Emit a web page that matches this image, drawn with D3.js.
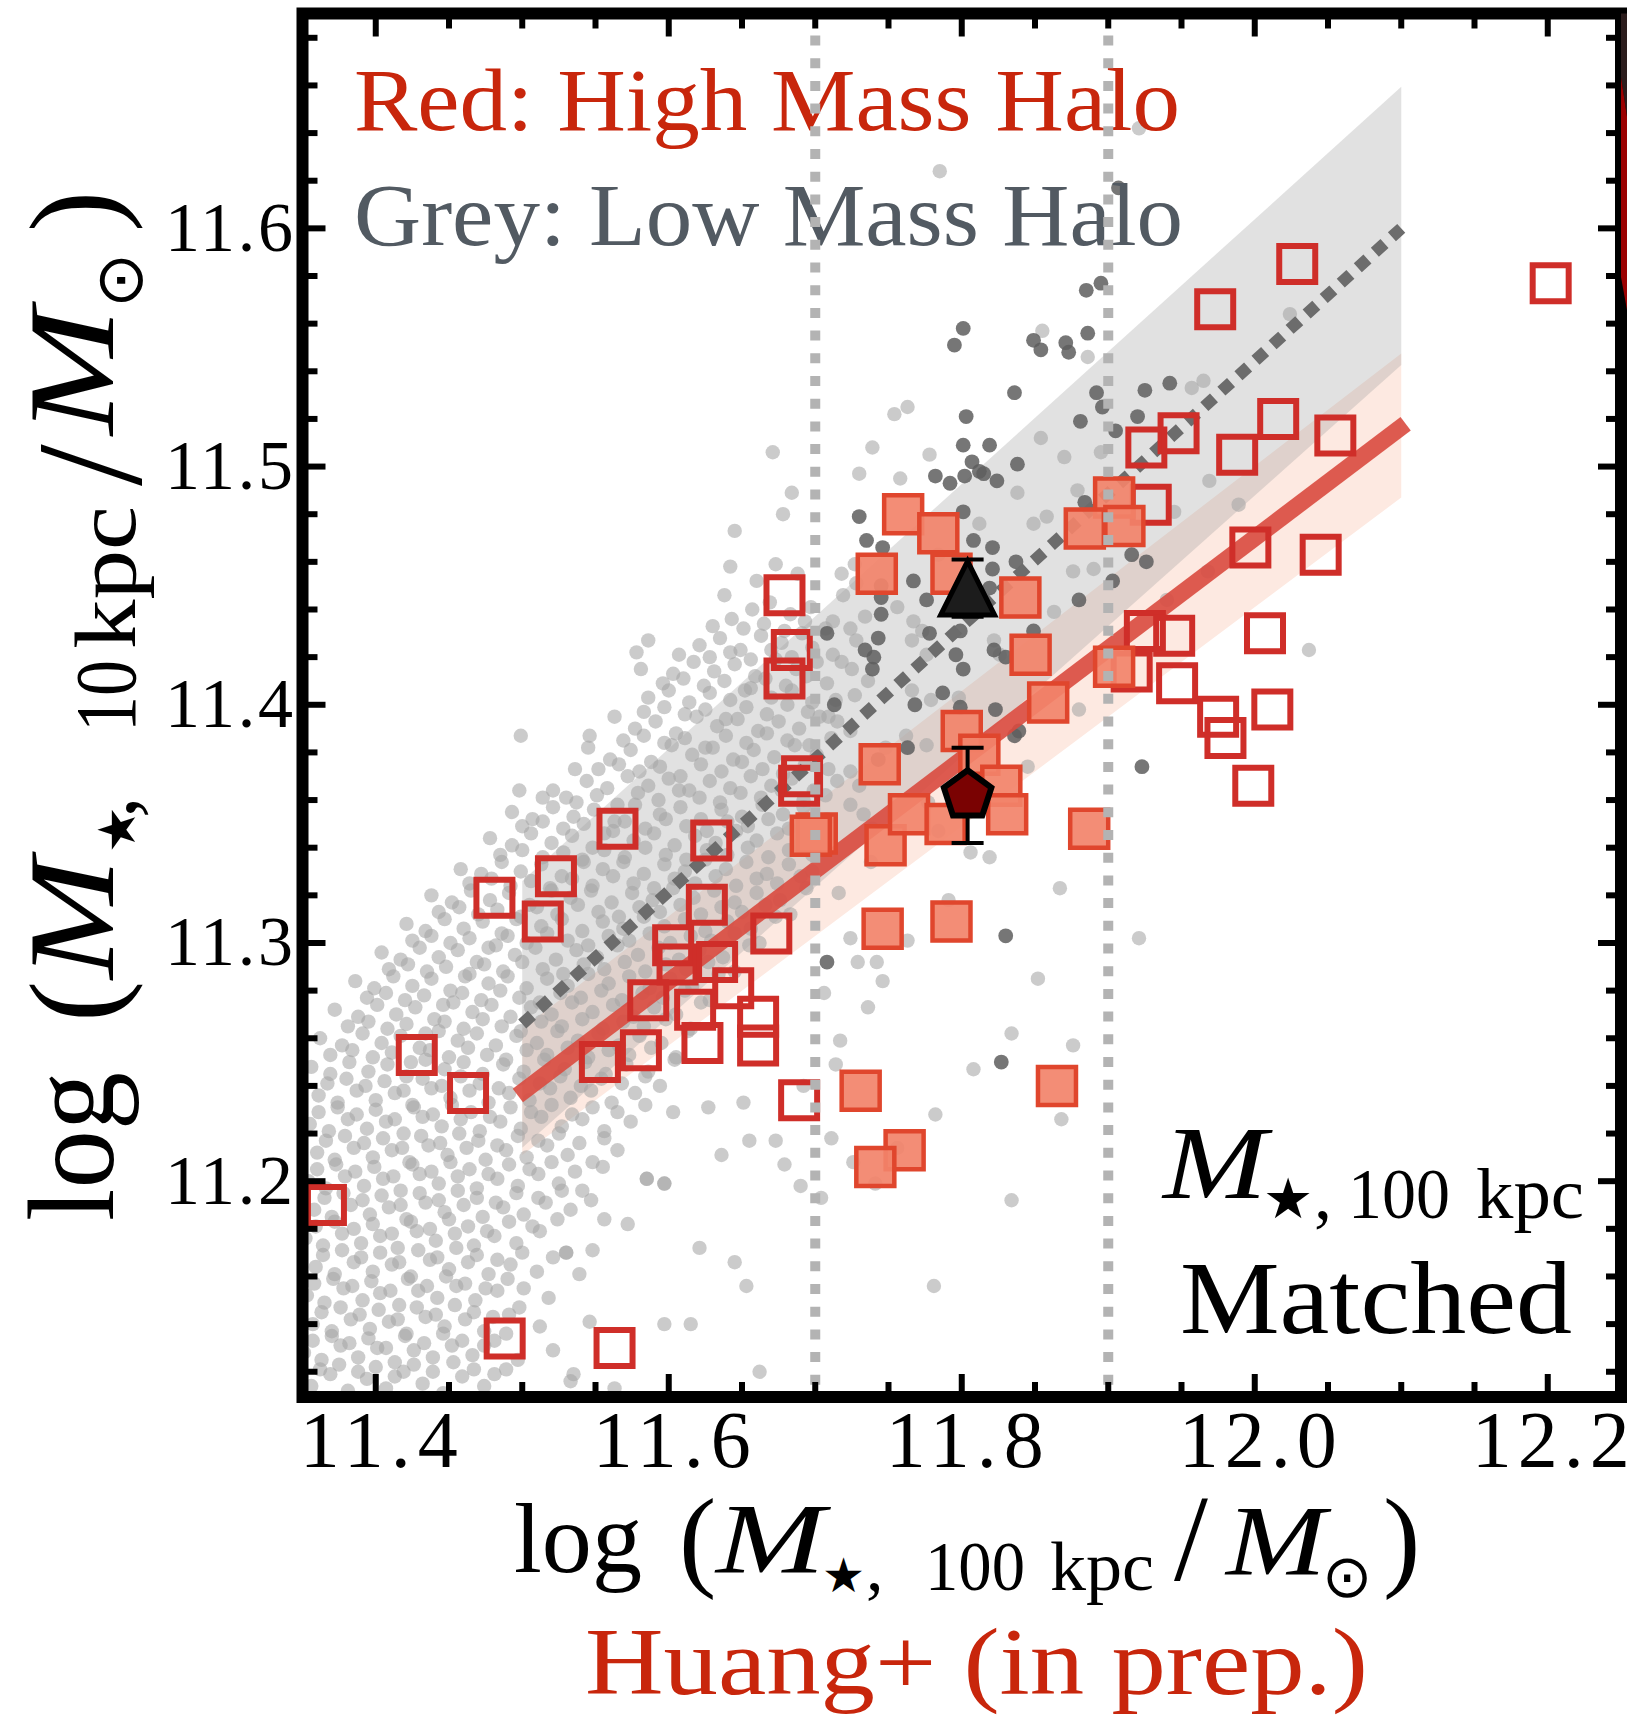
<!DOCTYPE html>
<html><head><meta charset="utf-8">
<script src="https://cdn.jsdelivr.net/npm/d3@7"></script>
<style>body{margin:0;background:#fff}svg{display:block}</style>
</head><body>
<svg id="c" width="1637" height="1717"></svg>
<script>
// ---------------- DATA ----------------
const xDomain = [11.35, 12.25];
const yDomain = [11.1094, 11.6902];
const xMajorTicks = [11.4, 11.6, 11.8, 12.0, 12.2];
const xTickLabels = ["11.4", "11.6", "11.8", "12.0", "12.2"];
const yMajorTicks = [11.2, 11.3, 11.4, 11.5, 11.6];
const yTickLabels = ["11.2", "11.3", "11.4", "11.5", "11.6"];
const refLinesX = [11.7, 11.9];

// grey: low-mass-halo relation (dotted) and its band; red: high-mass-halo relation and band
const lowMassLine = [[11.5, 11.266], [12.1, 11.600]];
const lowMassBand = [{x: 11.5, lo: 11.214, hi: 11.326}, {x: 12.1, lo: 11.5426, hi: 11.6594}];
const highMassLine = [[11.497, 11.236], [12.103, 11.518]];
const highMassBand = [{x: 11.5, lo: 11.211, hi: 11.264}, {x: 12.1, lo: 11.487, hi: 11.5475}];

// medians with errors
const lowMassMedian = {x: 11.804, y: 11.449, err: 0.012};
const highMassMedian = {x: 11.804, y: 11.362, err: 0.020};

// open red squares
const openSquares = [
[12.202,11.577],[12.029,11.585],[11.973,11.566],[12.016,11.520],[11.988,11.505],[12.055,11.513],
[11.948,11.514],[11.926,11.508],[11.929,11.484],[11.997,11.466],[12.045,11.463],[11.925,11.431],
[11.945,11.429],[12.007,11.430],[11.947,11.409],[11.975,11.395],[12.012,11.398],[11.980,11.386],
[11.999,11.366],[11.916,11.414],[11.679,11.446],[11.684,11.423],[11.679,11.411],[11.691,11.370],
[11.689,11.366],[11.565,11.348],[11.629,11.343],[11.481,11.319],[11.523,11.328],[11.514,11.309],
[11.626,11.316],[11.603,11.299],[11.670,11.304],[11.606,11.291],[11.633,11.292],[11.644,11.281],
[11.586,11.276],[11.618,11.272],[11.661,11.269],[11.661,11.257],[11.623,11.258],[11.581,11.255],
[11.553,11.250],[11.428,11.253],[11.463,11.237],[11.689,11.234],[11.366,11.190],[11.488,11.134],
[11.563,11.130]
];

// filled salmon squares
const filledSquares = [
[11.760,11.480],[11.784,11.472],[11.742,11.455],[11.793,11.455],[11.840,11.445],[11.847,11.421],
[11.859,11.401],[11.800,11.389],[11.812,11.379],[11.744,11.375],[11.701,11.346],[11.697,11.345],
[11.748,11.341],[11.764,11.354],[11.789,11.350],[11.827,11.366],[11.831,11.354],[11.746,11.306],
[11.793,11.309],[11.887,11.348],[11.731,11.238],[11.761,11.213],[11.741,11.206],[11.865,11.240],
[11.904,11.487],[11.884,11.474],[11.911,11.475],[11.904,11.416]
];

// dark grey dots
const darkDots = [
[11.907,11.617],[11.895,11.577],[11.885,11.574],[11.801,11.558],[11.795,11.551],[11.849,11.553],
[11.854,11.549],[11.871,11.552],[11.873,11.548],[11.886,11.556],[11.836,11.531],[11.892,11.531],
[11.925,11.532],[11.942,11.535],[11.803,11.521],[11.801,11.509],[11.807,11.502],[11.812,11.498],
[11.782,11.496],[11.792,11.493],[11.802,11.496],[11.730,11.479],[11.735,11.469],[11.746,11.466],
[11.801,11.481],[11.808,11.469],[11.767,11.452],[11.776,11.444],[11.745,11.450],[11.745,11.445],
[11.745,11.438],[11.708,11.430],[11.743,11.428],[11.778,11.430],[11.799,11.431],[11.734,11.423],
[11.740,11.420],[11.796,11.421],[11.739,11.415],[11.801,11.415],[11.787,11.405],[11.768,11.400],
[11.799,11.399],[11.713,11.400],[11.763,11.382],[11.743,11.377],[11.819,11.509],[11.838,11.501],
[11.815,11.497],[11.824,11.494],[11.881,11.519],[11.896,11.525],[11.905,11.515],[11.920,11.521],
[11.821,11.466],[11.821,11.457],[11.837,11.460],[11.819,11.449],[11.880,11.444],[11.903,11.452],
[11.916,11.463],[11.926,11.460],[11.884,11.485],[11.849,11.431],[11.822,11.423],[11.830,11.420],
[11.823,11.398],[11.839,11.389],[11.836,11.387],[11.923,11.374],[11.708,11.292],[11.830,11.303],
[11.827,11.250]
];

// light grey dots (full sample)
const lightDots = [
[11.356,11.114],[11.369,11.119],[11.381,11.112],[11.394,11.117],[11.407,11.113],[11.419,11.120],[11.432,11.115],[11.446,11.111],[11.459,11.118],[11.474,11.114],[11.489,11.121],[11.533,11.116],[11.563,11.113],
[11.351,11.128],[11.363,11.125],[11.376,11.131],[11.388,11.126],[11.401,11.130],[11.413,11.124],[11.426,11.129],[11.439,11.126],[11.452,11.131],[11.466,11.127],[11.481,11.133],[11.497,11.125],[11.521,11.129],
[11.357,11.140],[11.370,11.137],[11.383,11.142],[11.396,11.138],[11.409,11.141],[11.421,11.136],[11.434,11.143],[11.447,11.139],[11.461,11.142],[11.474,11.137],[11.491,11.144],[11.512,11.139],[11.546,11.141],[11.597,11.140],[11.615,11.140],
[11.353,11.152],[11.365,11.149],[11.378,11.155],[11.391,11.150],[11.403,11.153],[11.416,11.148],[11.429,11.154],[11.442,11.151],[11.455,11.156],[11.468,11.150],[11.483,11.154],[11.501,11.155],[11.518,11.151],[11.653,11.156],
[11.359,11.164],[11.372,11.161],[11.385,11.166],[11.398,11.162],[11.411,11.165],[11.424,11.160],[11.437,11.167],[11.450,11.163],[11.463,11.166],[11.477,11.161],[11.492,11.165],[11.510,11.162],[11.539,11.161],[11.645,11.166],[11.621,11.172],
[11.352,11.176],[11.364,11.173],[11.377,11.178],[11.390,11.174],[11.403,11.177],[11.415,11.172],[11.428,11.179],[11.441,11.175],[11.454,11.178],[11.467,11.173],[11.481,11.177],[11.496,11.174],[11.512,11.179],[11.530,11.170],[11.548,11.171],[11.572,11.182],
[11.358,11.188],[11.370,11.185],[11.383,11.190],[11.396,11.186],[11.409,11.189],[11.421,11.184],[11.434,11.191],[11.447,11.187],[11.460,11.190],[11.473,11.185],[11.487,11.189],[11.501,11.186],[11.516,11.191],[11.533,11.188],[11.556,11.184],[11.690,11.198],
[11.354,11.200],[11.366,11.197],[11.379,11.202],[11.392,11.198],[11.405,11.201],[11.417,11.196],[11.430,11.203],[11.443,11.199],[11.456,11.202],[11.469,11.197],[11.483,11.201],[11.497,11.198],[11.511,11.203],[11.525,11.199],[11.541,11.196],[11.585,11.201],[11.597,11.199],
[11.360,11.212],[11.372,11.209],[11.385,11.214],[11.398,11.210],[11.411,11.213],[11.423,11.208],[11.436,11.215],[11.449,11.211],[11.462,11.214],[11.475,11.209],[11.489,11.213],[11.503,11.210],[11.517,11.215],[11.531,11.211],[11.548,11.208],[11.565,11.213],[11.636,11.211],[11.655,11.217],[11.673,11.217],[11.711,11.218],
[11.355,11.224],[11.368,11.221],[11.381,11.226],[11.394,11.222],[11.407,11.225],[11.419,11.220],[11.432,11.227],[11.445,11.223],[11.458,11.226],[11.471,11.221],[11.485,11.225],[11.499,11.222],[11.513,11.227],[11.527,11.223],[11.541,11.226],[11.556,11.221],[11.574,11.225],[11.603,11.229],[11.627,11.231],[11.651,11.233],
[11.361,11.236],[11.374,11.233],[11.387,11.238],[11.400,11.234],[11.413,11.237],[11.425,11.232],[11.438,11.239],[11.451,11.235],[11.464,11.238],[11.477,11.233],[11.491,11.237],[11.505,11.234],[11.519,11.239],[11.533,11.235],[11.547,11.238],[11.561,11.233],[11.577,11.237],[11.594,11.240],
[11.356,11.248],[11.369,11.245],[11.382,11.250],[11.395,11.246],[11.408,11.249],[11.421,11.244],[11.434,11.251],[11.447,11.247],[11.460,11.250],[11.473,11.245],[11.487,11.249],[11.501,11.246],[11.515,11.251],[11.529,11.247],[11.543,11.250],[11.557,11.245],[11.571,11.249],[11.586,11.246],[11.604,11.251],[11.714,11.249],[11.717,11.259],
[11.362,11.260],[11.377,11.257],[11.391,11.262],[11.404,11.258],[11.417,11.261],[11.430,11.256],[11.443,11.263],[11.456,11.259],[11.469,11.262],[11.482,11.257],[11.496,11.261],[11.510,11.258],[11.524,11.263],[11.538,11.259],[11.552,11.262],[11.566,11.257],[11.580,11.261],[11.595,11.258],[11.613,11.263],
[11.372,11.272],[11.388,11.269],[11.401,11.274],[11.414,11.270],[11.427,11.273],[11.440,11.268],[11.453,11.275],[11.466,11.271],[11.479,11.274],[11.492,11.269],[11.506,11.273],[11.520,11.270],[11.534,11.275],[11.548,11.271],[11.562,11.274],[11.576,11.269],[11.590,11.273],[11.605,11.270],[11.622,11.275],[11.736,11.273],
[11.386,11.284],[11.399,11.281],[11.412,11.286],[11.425,11.282],[11.438,11.285],[11.451,11.280],[11.464,11.287],[11.477,11.283],[11.490,11.286],[11.503,11.281],[11.517,11.285],[11.531,11.282],[11.545,11.287],[11.559,11.283],[11.573,11.286],[11.587,11.281],[11.601,11.285],[11.616,11.282],[11.634,11.287],[11.742,11.292],
[11.404,11.296],[11.417,11.293],[11.430,11.298],[11.443,11.294],[11.456,11.297],[11.469,11.292],[11.482,11.299],[11.495,11.295],[11.509,11.298],[11.523,11.293],[11.537,11.297],[11.551,11.294],[11.565,11.299],[11.579,11.295],[11.593,11.298],[11.607,11.293],[11.621,11.297],[11.637,11.294],[11.655,11.299],[11.724,11.302],
[11.421,11.308],[11.434,11.305],[11.447,11.310],[11.460,11.306],[11.473,11.309],[11.486,11.304],[11.499,11.311],[11.513,11.307],[11.527,11.310],[11.541,11.305],[11.555,11.309],[11.569,11.306],[11.583,11.311],[11.597,11.307],[11.611,11.310],[11.625,11.305],[11.640,11.309],[11.656,11.306],[11.673,11.311],
[11.438,11.320],[11.452,11.317],[11.465,11.322],[11.478,11.318],[11.491,11.321],[11.505,11.316],[11.519,11.323],[11.533,11.319],[11.547,11.322],[11.561,11.317],[11.575,11.321],[11.589,11.318],[11.603,11.323],[11.617,11.319],[11.631,11.322],[11.645,11.317],[11.660,11.321],[11.676,11.318],[11.694,11.323],
[11.458,11.331],[11.472,11.329],[11.486,11.334],[11.499,11.330],[11.513,11.333],[11.527,11.328],[11.541,11.335],[11.555,11.331],[11.569,11.334],[11.583,11.329],[11.597,11.333],[11.611,11.330],[11.625,11.335],[11.639,11.331],[11.653,11.334],[11.667,11.329],[11.682,11.333],[11.698,11.330],
[11.478,11.344],[11.493,11.341],[11.506,11.346],[11.520,11.342],[11.534,11.345],[11.548,11.340],[11.562,11.347],[11.576,11.343],[11.590,11.346],[11.604,11.341],[11.618,11.345],[11.632,11.342],[11.646,11.347],[11.660,11.343],[11.674,11.346],[11.689,11.341],[11.706,11.345],[11.739,11.348],[11.784,11.347],[11.806,11.338],
[11.493,11.355],[11.507,11.352],[11.521,11.357],[11.535,11.353],[11.549,11.356],[11.563,11.351],[11.577,11.358],[11.594,11.354],[11.608,11.357],[11.622,11.352],[11.636,11.356],[11.650,11.353],[11.664,11.358],[11.678,11.354],[11.692,11.357],[11.708,11.352],[11.724,11.358],[11.733,11.354],[11.777,11.359],
[11.498,11.364],[11.521,11.364],[11.530,11.361],[11.544,11.368],[11.558,11.365],[11.572,11.370],[11.586,11.366],[11.600,11.369],[11.614,11.364],[11.628,11.368],[11.642,11.365],[11.656,11.370],[11.670,11.366],[11.684,11.369],[11.699,11.364],[11.715,11.368],[11.730,11.366],
[11.536,11.373],[11.545,11.382],[11.560,11.377],[11.574,11.381],[11.588,11.376],[11.602,11.383],[11.616,11.379],[11.630,11.382],[11.644,11.377],[11.658,11.381],[11.672,11.378],[11.686,11.383],[11.701,11.379],[11.724,11.372],[11.762,11.387],[11.776,11.383],
[11.499,11.387],[11.546,11.387],[11.563,11.395],[11.577,11.390],[11.591,11.393],[11.605,11.388],[11.619,11.395],[11.633,11.391],[11.647,11.394],[11.661,11.389],[11.675,11.393],[11.689,11.390],[11.703,11.395],[11.715,11.393],[11.724,11.389],
[11.586,11.403],[11.600,11.406],[11.614,11.401],[11.628,11.405],[11.642,11.402],[11.656,11.407],[11.670,11.403],[11.684,11.406],[11.698,11.401],[11.714,11.402],[11.727,11.404],[11.766,11.406],[11.779,11.402],
[11.581,11.415],[11.603,11.413],[11.617,11.418],[11.631,11.414],[11.645,11.417],[11.659,11.412],[11.673,11.419],[11.687,11.415],[11.701,11.418],[11.718,11.418],[11.725,11.415],[11.736,11.410],
[11.586,11.427],[11.578,11.422],[11.621,11.425],[11.635,11.428],[11.649,11.423],[11.663,11.429],[11.677,11.426],[11.691,11.430],[11.712,11.435],[11.728,11.427],[11.766,11.427],[11.776,11.421],
[11.638,11.446],[11.657,11.440],[11.643,11.436],[11.669,11.443],[11.683,11.438],[11.697,11.441],[11.719,11.446],[11.724,11.432],[11.734,11.437],[11.767,11.435],[11.773,11.431],
[11.642,11.458],[11.673,11.459],[11.660,11.452],[11.688,11.455],[11.718,11.455],[11.727,11.459],[11.728,11.451],
[11.645,11.473],[11.678,11.480],[11.684,11.489],[11.671,11.506],[11.730,11.497],[11.739,11.508],[11.758,11.495],[11.763,11.525],[11.754,11.522],[11.778,11.505],
[11.785,11.624],[11.854,11.512],[11.870,11.504],[11.895,11.506],[11.879,11.490],[11.969,11.494],[11.945,11.481],[11.989,11.484],[11.849,11.476],[11.858,11.479],
[11.876,11.456],[11.890,11.457],[11.863,11.439],[11.968,11.456],[11.940,11.444],[11.822,11.427],[12.037,11.423],[11.880,11.398],[11.845,11.374],[11.867,11.323],
[11.921,11.642],[12.024,11.564],[11.965,11.536],[11.957,11.533],[11.855,11.557],[11.886,11.546],[11.852,11.285],[11.798,11.403],[11.826,11.421],[11.812,11.476],
[11.838,11.489],[11.791,11.318],[11.819,11.336],[11.763,11.301],[11.834,11.262],[11.808,11.247],[11.782,11.228],[11.756,11.214],[11.781,11.156],[11.834,11.192],
[11.868,11.226],[11.876,11.257],[11.921,11.302],[11.662,11.120],[11.530,11.170],[11.535,11.119],[11.597,11.199],[11.585,11.201],[11.679,11.207],[11.704,11.193],
[11.726,11.208],[11.741,11.199],[11.692,11.240],[11.706,11.279],[11.729,11.292],[11.746,11.284],[11.716,11.321],[11.738,11.334],[11.748,11.382],[11.756,11.441],[11.784,11.463],
[11.362,11.121],[11.375,11.123],[11.388,11.120],[11.400,11.122],[11.413,11.118],[11.426,11.123],[11.439,11.120],[11.453,11.124],[11.467,11.121],[11.481,11.119],
[11.357,11.133],[11.370,11.135],[11.382,11.132],[11.395,11.134],[11.407,11.130],[11.420,11.135],[11.433,11.132],[11.446,11.136],[11.459,11.133],[11.474,11.131],[11.489,11.136],
[11.363,11.145],[11.376,11.147],[11.389,11.144],[11.402,11.146],[11.415,11.142],[11.428,11.147],[11.441,11.144],[11.454,11.148],[11.467,11.145],[11.480,11.143],[11.498,11.147],
[11.358,11.157],[11.371,11.159],[11.384,11.156],[11.397,11.158],[11.410,11.154],[11.422,11.159],[11.435,11.156],[11.448,11.160],[11.461,11.157],[11.475,11.155],[11.490,11.159],
[11.364,11.169],[11.377,11.171],[11.390,11.168],[11.403,11.170],[11.416,11.166],[11.429,11.171],[11.442,11.168],[11.455,11.172],[11.469,11.169],[11.483,11.167],[11.500,11.170],[11.521,11.168],
[11.359,11.181],[11.372,11.183],[11.385,11.180],[11.398,11.182],[11.411,11.178],[11.424,11.183],[11.437,11.180],[11.450,11.184],[11.463,11.181],[11.476,11.179],[11.491,11.183],[11.507,11.181],[11.524,11.184],
[11.365,11.193],[11.378,11.195],[11.391,11.192],[11.404,11.194],[11.417,11.190],[11.430,11.195],[11.443,11.192],[11.456,11.196],[11.469,11.193],[11.482,11.191],[11.496,11.195],[11.511,11.193],[11.527,11.196],[11.547,11.192],
[11.360,11.205],[11.373,11.207],[11.386,11.204],[11.399,11.206],[11.412,11.202],[11.425,11.207],[11.438,11.204],[11.451,11.208],[11.464,11.205],[11.477,11.203],[11.491,11.207],[11.505,11.205],[11.520,11.208],[11.536,11.204],[11.555,11.206],
[11.366,11.217],[11.379,11.219],[11.392,11.216],[11.405,11.218],[11.418,11.214],[11.431,11.219],[11.444,11.216],[11.457,11.220],[11.470,11.217],[11.483,11.215],[11.497,11.219],[11.511,11.217],[11.525,11.220],[11.539,11.216],[11.556,11.218],
[11.361,11.229],[11.374,11.231],[11.387,11.228],[11.400,11.230],[11.413,11.226],[11.426,11.231],[11.439,11.228],[11.452,11.232],[11.465,11.229],[11.478,11.227],[11.492,11.231],[11.506,11.229],[11.520,11.232],[11.534,11.228],[11.548,11.231],[11.565,11.229],[11.584,11.232],
[11.367,11.241],[11.380,11.243],[11.393,11.240],[11.406,11.242],[11.419,11.238],[11.432,11.243],[11.445,11.240],[11.458,11.244],[11.471,11.241],[11.484,11.239],[11.498,11.243],[11.512,11.241],[11.526,11.244],[11.540,11.240],[11.554,11.243],[11.568,11.241],[11.584,11.244],
[11.369,11.253],[11.384,11.255],[11.398,11.252],[11.411,11.254],[11.424,11.250],[11.437,11.255],[11.450,11.252],[11.463,11.256],[11.476,11.253],[11.489,11.251],[11.503,11.255],[11.517,11.253],[11.531,11.256],[11.545,11.252],[11.559,11.255],[11.573,11.253],[11.588,11.256],[11.605,11.252],
[11.381,11.265],[11.395,11.267],[11.408,11.264],[11.421,11.266],[11.434,11.262],[11.447,11.267],[11.460,11.264],[11.473,11.268],[11.486,11.265],[11.499,11.263],[11.513,11.267],[11.527,11.265],[11.541,11.268],[11.555,11.264],[11.569,11.267],[11.583,11.265],[11.598,11.268],[11.615,11.264],
[11.394,11.277],[11.407,11.279],[11.420,11.276],[11.433,11.278],[11.446,11.274],[11.459,11.279],[11.472,11.276],[11.485,11.280],[11.498,11.277],[11.512,11.275],[11.526,11.279],[11.540,11.277],[11.554,11.280],[11.568,11.276],[11.582,11.279],[11.596,11.277],[11.611,11.280],[11.628,11.276],
[11.409,11.289],[11.422,11.291],[11.435,11.288],[11.448,11.290],[11.461,11.286],[11.474,11.291],[11.487,11.288],[11.500,11.292],[11.514,11.289],[11.528,11.287],[11.542,11.291],[11.556,11.289],[11.570,11.292],[11.584,11.288],[11.598,11.291],[11.612,11.289],[11.627,11.292],[11.645,11.288],
[11.425,11.301],[11.438,11.303],[11.451,11.300],[11.464,11.302],[11.477,11.298],[11.490,11.303],[11.503,11.300],[11.517,11.304],[11.531,11.301],[11.545,11.299],[11.559,11.303],[11.573,11.301],[11.587,11.304],[11.601,11.300],[11.615,11.303],[11.629,11.301],[11.645,11.304],[11.662,11.300],
[11.443,11.313],[11.457,11.315],[11.470,11.312],[11.483,11.314],[11.496,11.310],[11.510,11.315],[11.524,11.312],[11.538,11.316],[11.552,11.313],[11.566,11.311],[11.580,11.315],[11.594,11.313],[11.608,11.316],[11.622,11.312],[11.636,11.315],[11.650,11.313],[11.666,11.316],[11.683,11.312],
[11.464,11.325],[11.479,11.327],[11.492,11.324],[11.506,11.326],[11.520,11.322],[11.534,11.327],[11.548,11.324],[11.562,11.328],[11.576,11.325],[11.590,11.323],[11.604,11.327],[11.618,11.325],[11.632,11.328],[11.646,11.324],[11.660,11.327],[11.674,11.325],[11.690,11.328],
[11.485,11.337],[11.500,11.339],[11.514,11.336],[11.528,11.338],[11.542,11.334],[11.556,11.339],[11.570,11.336],[11.584,11.340],[11.598,11.337],[11.612,11.335],[11.626,11.339],[11.640,11.337],[11.654,11.340],[11.668,11.336],[11.682,11.339],[11.698,11.337],
[11.500,11.349],[11.514,11.351],[11.528,11.348],[11.542,11.350],[11.556,11.346],[11.570,11.351],[11.584,11.348],[11.598,11.352],[11.612,11.349],[11.626,11.347],[11.640,11.351],[11.654,11.349],[11.668,11.352],[11.682,11.348],[11.698,11.350],
[11.514,11.361],[11.537,11.359],[11.551,11.362],[11.565,11.358],[11.579,11.363],[11.593,11.360],[11.607,11.364],[11.621,11.361],[11.635,11.359],[11.649,11.363],[11.663,11.361],[11.677,11.364],[11.692,11.360],[11.707,11.362],
[11.552,11.373],[11.566,11.375],[11.580,11.372],[11.594,11.374],[11.608,11.370],[11.622,11.375],[11.636,11.372],[11.650,11.376],[11.664,11.373],[11.678,11.371],[11.693,11.375],[11.709,11.373],
[11.569,11.385],[11.583,11.387],[11.597,11.384],[11.611,11.386],[11.625,11.382],[11.639,11.387],[11.653,11.384],[11.667,11.388],[11.681,11.385],[11.696,11.383],[11.711,11.386],
[11.583,11.397],[11.597,11.399],[11.611,11.396],[11.625,11.398],[11.639,11.394],[11.653,11.399],[11.667,11.396],[11.681,11.400],[11.695,11.397],[11.709,11.395],
[11.596,11.409],[11.610,11.411],[11.624,11.408],[11.638,11.410],[11.652,11.406],[11.666,11.411],[11.680,11.408],[11.694,11.412],[11.708,11.409],
[11.607,11.421],[11.628,11.420],[11.642,11.422],[11.656,11.419],[11.670,11.423],[11.684,11.420],[11.698,11.424],[11.712,11.421],
[11.630,11.433],[11.651,11.432],[11.665,11.434],[11.679,11.431],[11.693,11.435],[11.707,11.432]
];

// edge of the neighbouring panel visible at the right border
const neighbourDark = [[12.2500,11.6902],[12.2541,11.6902],[12.2541,11.6467],[12.2500,11.6635]];
const neighbourRed = [[12.2500,11.6635],[12.2541,11.6467],[12.2541,11.5657],[12.2500,11.5796]];

// ---------------- LAYOUT ----------------
const X0 = 302.5, X1 = 1621, Y0 = 13.5, Y1 = 1397;
const SERIF = "'Liberation Serif','DejaVu Serif',serif";
const SYM = "'DejaVu Sans',sans-serif";
const RED_TXT = "#c8260c", GREY_TXT = "#525a62";

const svg = d3.select("#c");
const x = d3.scaleLinear().domain(xDomain).range([X0, X1]);
const y = d3.scaleLinear().domain(yDomain).range([Y1, Y0]);

svg.append("defs").append("clipPath").attr("id", "clip").append("rect")
  .attr("x", X0).attr("y", Y0).attr("width", X1 - X0).attr("height", Y1 - Y0);
const plot = svg.append("g").attr("clip-path", "url(#clip)");

// bands
const area = d3.area().x(d => x(d.x)).y0(d => y(d.lo)).y1(d => y(d.hi));
plot.append("path").datum(highMassBand).attr("d", area).attr("fill", "#fde9e1");
plot.append("path").datum(lowMassBand).attr("d", area).attr("fill", "#9c9c9c").attr("fill-opacity", 0.3);

// light dots
plot.append("g").selectAll("circle").data(lightDots).join("circle")
  .attr("cx", d => x(d[0])).attr("cy", d => y(d[1])).attr("r", 7.2)
  .attr("fill", "#a5a5a5").attr("fill-opacity", 0.58);

// dark dots
plot.append("g").selectAll("circle").data(darkDots).join("circle")
  .attr("cx", d => x(d[0])).attr("cy", d => y(d[1])).attr("r", 7.4)
  .attr("fill", "#5e5e5e").attr("fill-opacity", 0.85);

// lines
const line = d3.line().x(d => x(d[0])).y(d => y(d[1]));
plot.append("path").datum(lowMassLine).attr("d", line).attr("fill", "none")
  .attr("stroke", "#6c6c6c").attr("stroke-width", 12).attr("stroke-dasharray", "13,10");
plot.append("path").datum(highMassLine).attr("d", line).attr("fill", "none")
  .attr("stroke", "#d94a3f").attr("stroke-opacity", 0.9).attr("stroke-width", 17);

// open squares
const sqOpen = d3.symbol().type(d3.symbolSquare).size(36 * 36);
plot.append("g").selectAll("path").data(openSquares).join("path")
  .attr("d", sqOpen).attr("transform", d => `translate(${x(d[0])},${y(d[1])})`)
  .attr("fill", "none").attr("stroke", "#cf2e29").attr("stroke-width", 6);

// filled squares
const sqFill = d3.symbol().type(d3.symbolSquare).size(38 * 38);
plot.append("g").selectAll("path").data(filledSquares).join("path")
  .attr("d", sqFill).attr("transform", d => `translate(${x(d[0])},${y(d[1])})`)
  .attr("fill", "#f2836a").attr("fill-opacity", 0.92).attr("stroke", "#e0462d").attr("stroke-width", 4.5);

// medians with error bars
function errBar(m) {
  const g = plot.append("g").attr("stroke", "#000").attr("stroke-width", 4).attr("fill", "none");
  g.append("line").attr("x1", x(m.x)).attr("x2", x(m.x)).attr("y1", y(m.y - m.err)).attr("y2", y(m.y + m.err));
  [m.y - m.err, m.y + m.err].forEach(v => g.append("line")
    .attr("x1", x(m.x) - 16).attr("x2", x(m.x) + 16).attr("y1", y(v)).attr("y2", y(v)));
}
errBar(lowMassMedian);
errBar(highMassMedian);
const tr = 27;
plot.append("path").attr("d", `M0,${-tr}L${tr},${tr}L${-tr},${tr}Z`)
  .attr("transform", `translate(${x(lowMassMedian.x)},${y(lowMassMedian.y)})`)
  .attr("fill", "#1c1c1c").attr("stroke", "#000").attr("stroke-width", 5).attr("stroke-linejoin", "miter");
const pr = 25;
const pent = d3.range(5).map(k => { const a = -Math.PI / 2 + k * 2 * Math.PI / 5; return [pr * Math.cos(a), pr * Math.sin(a)]; });
plot.append("path").attr("d", "M" + pent.map(p => p.join(",")).join("L") + "Z")
  .attr("transform", `translate(${x(highMassMedian.x)},${y(highMassMedian.y)})`)
  .attr("fill", "#7a0202").attr("stroke", "#000").attr("stroke-width", 6);

// ---------------- TEXT ----------------
function txt(o) {
  const t = svg.append("text").attr("x", o.x).attr("y", o.y).text(o.t)
    .attr("font-family", o.ff || SERIF).attr("font-size", o.s).attr("fill", o.c || "#000");
  if (o.it) t.attr("font-style", "italic");
  if (o.a) t.attr("text-anchor", o.a);
  if (o.len) t.attr("textLength", o.len).attr("lengthAdjust", o.adj || "spacingAndGlyphs");
  if (o.tf) t.attr("transform", o.tf);
  return t;
}
txt({x: 354, y: 130, t: "Red: High Mass Halo", s: 88, c: RED_TXT, len: 826});
txt({x: 354, y: 245, t: "Grey: Low Mass Halo", s: 88, c: GREY_TXT, len: 829});

// inset label
txt({x: 1163, y: 1198, t: "M", s: 103, it: true, len: 104});
txt({x: 1263, y: 1218, t: "\u2605", s: 56, ff: SYM});
txt({x: 1314, y: 1218, t: ",", s: 72});
txt({x: 1348, y: 1218, t: "100", s: 72, len: 102});
txt({x: 1476, y: 1218, t: "kpc", s: 72, len: 108});
txt({x: 1180, y: 1333, t: "Matched", s: 103, len: 392});

// tick labels
xMajorTicks.forEach((v, i) => txt({x: x(v) + 3, y: 1467, t: xTickLabels[i], s: 80, a: "middle", len: 158, adj: "spacing"}));
yMajorTicks.forEach((v, i) => txt({x: 293, y: y(v) + 22.5, t: yTickLabels[i], s: 70, a: "end", len: 128, adj: "spacing"}));

// x-axis label
txt({x: 514, y: 1572, t: "log", s: 100, len: 128});
txt({x: 679, y: 1576, t: "(", s: 112});
txt({x: 716, y: 1572, t: "M", s: 100, it: true, len: 109});
txt({x: 822, y: 1592, t: "\u2605", s: 48, ff: SYM});
txt({x: 866, y: 1590, t: ",", s: 70});
txt({x: 925, y: 1590, t: "100", s: 70, len: 100});
txt({x: 1050, y: 1590, t: "kpc", s: 70, len: 104});
txt({x: 1174, y: 1580, t: "/", s: 122});
txt({x: 1226, y: 1574, t: "M", s: 100, it: true, len: 100});
txt({x: 1322, y: 1597, t: "\u2299", s: 60, ff: SYM});
txt({x: 1383, y: 1576, t: ")", s: 112});

// y-axis label (rotated)
function rot(xb, ys, o) { o.x = 0; o.y = 0; o.tf = `translate(${xb},${ys}) rotate(-90)`; return txt(o); }
rot(113, 1221, {t: "log", s: 122, len: 149});
rot(116, 1022, {t: "(", s: 124});
rot(113, 979, {t: "M", s: 122, it: true, len: 121});
rot(135, 853, {t: "\u2605", s: 52, ff: SYM});
rot(135, 818, {t: ",", s: 86});
rot(135, 732, {t: "10", s: 86, len: 72});
rot(135, 649, {t: "kpc", s: 86, len: 143});
rot(141, 486, {t: "/", s: 150});
rot(113, 435, {t: "M", s: 122, it: true, len: 127});
rot(142, 308, {t: "\u2299", s: 66, ff: SYM});
rot(116, 232, {t: ")", s: 124});

// credit
txt({x: 585, y: 1694, t: "Huang+ (in prep.)", s: 96, c: RED_TXT, len: 783});

// vertical reference lines (drawn over text like the original)
svg.append("g").attr("clip-path", "url(#clip)").selectAll("line").data(refLinesX).join("line")
  .attr("x1", d => x(d)).attr("x2", d => x(d)).attr("y1", Y0 + 22).attr("y2", Y1)
  .attr("stroke", "#b3b3b3").attr("stroke-width", 10).attr("stroke-dasharray", "10,12.7");

// ---------------- AXES / FRAME ----------------
const xMinor = d3.range(11.40, 12.2001, 0.05).filter(v => Math.abs(Math.round(v * 5) - v * 5) > 1e-6);
const yMinor = d3.range(11.12, 11.6801, 0.02).filter(v => Math.abs(Math.round(v * 10) - v * 10) > 1e-6);
function addAxis(gen, vals, len, tf) {
  const g = svg.append("g").attr("transform", tf)
    .call(gen.tickValues(vals).tickSize(-len).tickFormat("").offset(0));
  g.select(".domain").remove();
  g.selectAll("line").attr("stroke", "#000").attr("stroke-width", 6);
}
[[xMajorTicks, 23], [xMinor, 15]].forEach(([v, l]) => {
  addAxis(d3.axisBottom(x), v, l, `translate(0,${Y1})`);
  addAxis(d3.axisTop(x), v, l, `translate(0,${Y0})`);
});
[[yMajorTicks, 23], [yMinor, 15]].forEach(([v, l]) => {
  addAxis(d3.axisLeft(y), v, l, `translate(${X0},0)`);
  addAxis(d3.axisRight(y), v, l, `translate(${X1},0)`);
});
svg.append("rect").attr("x", X0).attr("y", Y0).attr("width", X1 - X0).attr("height", Y1 - Y0)
  .attr("fill", "none").attr("stroke", "#000").attr("stroke-width", 12);

// neighbouring panel edge
svg.append("path").datum(neighbourDark).attr("d", d3.line().x(d => x(d[0])).y(d => y(d[1])).curve(d3.curveLinearClosed))
  .attr("fill", "#2b1c1c");
svg.append("path").datum(neighbourRed).attr("d", d3.line().x(d => x(d[0])).y(d => y(d[1])).curve(d3.curveLinearClosed))
  .attr("fill", "#9a0000");
</script>
</body></html>
